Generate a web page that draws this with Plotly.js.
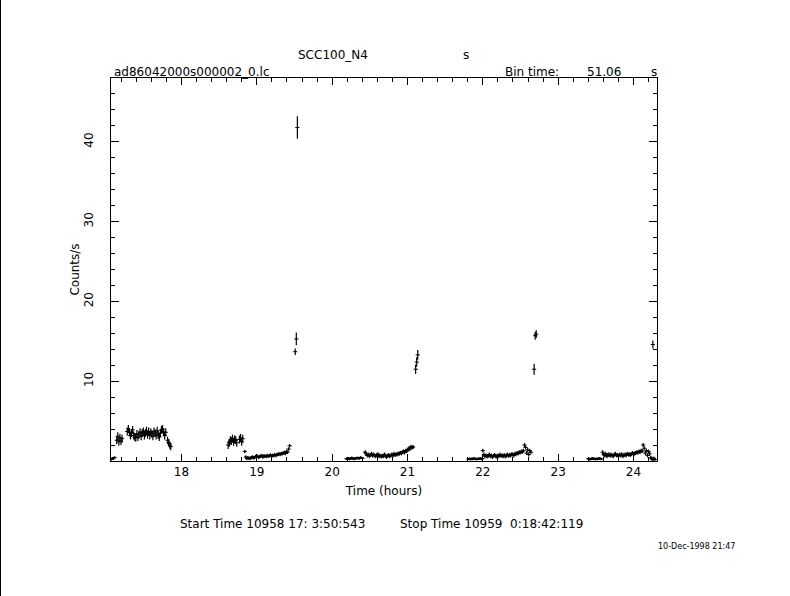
<!DOCTYPE html>
<html>
<head>
<meta charset="utf-8">
<script src="https://cdn.plot.ly/plotly-3.0.1.min.js"></script>
<style>
  html, body { margin: 0; padding: 0; background: #fff; }
  #wrap { position: relative; width: 790px; height: 596px; }
  #plot { position: absolute; left: 0; top: 0; width: 790px; height: 596px; }
  #edge { position: absolute; left: 0; top: 0; width: 1px; height: 596px; background: #000; }
</style>
</head>
<body>
<div id="wrap"><div id="plot"></div><div id="edge"></div></div>
<script>
// ---- data ----
const binTimeSec = 51.06;
const startTimeHours = 17.064;   // 17:03:50.543
const stopTimeHours = 24.312;    // 00:18:42.119 next day

// start hour of each contiguous run of bins
const segStart = [17.068, 17.140, 17.280, 17.815, 18.620, 18.770, 18.840,
                  20.190, 20.437, 21.810, 22.000, 23.400, 23.590];
// typical error (counts/s) in each run
const segErr = [0.15, 0.5, 0.5, 0.45, 0.5, 0.5, 0.22, 0.15, 0.25, 0.15, 0.25, 0.15, 0.25];
// rates (counts/s), one per 51.06 s bin
const segRates = [
  [0.2, 0.35, 0.3, 0.45],
  [2.6, 3.1, 2.4, 2.9, 2.5, 2.8],
  [3.7, 4.0, 3.6, 3.2, 3.5, 3.9, 3.2, 3.0, 2.9, 3.4, 3.0, 3.3, 3.6, 3.1, 3.5, 3.7, 3.2, 3.5, 3.8,
   3.3, 3.7, 3.2, 3.6, 3.4, 3.1, 3.7, 3.5, 3.2, 3.8, 3.3, 3.0, 3.5, 3.9, 4.0, 3.6, 3.2, 3.6],
  [2.6, 2.3, 2.0, 1.8],
  [2.0, 2.3, 2.6, 2.5, 2.8, 2.4, 2.7, 2.6, 2.3],
  [2.7, 2.9, 2.4, 2.8],
  [1.2, 0.5, 0.3, 0.4, 0.3, 0.35, 0.4, 0.5, 0.4, 0.45, 0.55, 0.5, 0.6, 0.45, 0.55, 0.6, 0.7, 0.5,
   0.65, 0.6, 0.55, 0.7, 0.6, 0.65, 0.75, 0.6, 0.7, 0.65, 0.8, 0.7, 0.75, 0.85, 0.9, 0.8, 0.95,
   0.9, 1.0, 1.05, 0.95, 1.2, 1.1, 1.5, 1.9],
  [0.3, 0.2, 0.35, 0.25, 0.3, 0.4, 0.3, 0.25, 0.35, 0.3, 0.4, 0.35, 0.3, 0.45, 0.4, 0.35],
  [1.1, 0.9, 0.7, 0.8, 0.6, 0.75, 0.9, 0.65, 0.8, 0.7, 0.6, 0.75, 0.85, 0.6, 0.7, 0.55, 0.65, 0.6,
   0.8, 0.7, 0.5, 0.65, 0.75, 0.6, 0.7, 0.8, 0.65, 0.9, 0.75, 0.85, 0.8, 0.95, 0.9, 1.05, 0.95,
   1.1, 1.2, 1.05, 1.3, 1.25, 1.4, 1.6, 1.5, 1.8, 1.7, 1.75],
  [0.25, 0.3, 0.2, 0.3, 0.25, 0.35, 0.3, 0.2, 0.3, 0.25, 0.3, 0.35, 0.25, 0.3],
  [1.3, 0.8, 0.6, 0.7, 0.55, 0.65, 0.8, 0.6, 0.7, 0.5, 0.65, 0.75, 0.6, 0.55, 0.7, 0.6, 0.8, 0.65,
   0.7, 0.6, 0.75, 0.55, 0.7, 0.8, 0.65, 0.75, 0.7, 0.85, 0.8, 0.7, 0.9, 0.85, 1.0, 0.95, 1.1,
   1.05, 1.2, 1.15, 1.3, 2.0, 1.7, 1.0, 1.4, 0.8, 1.3, 1.1],
  [0.3, 0.25, 0.2, 0.3, 0.35, 0.25, 0.3, 0.2, 0.3, 0.25, 0.35, 0.3, 0.25],
  [1.1, 0.8, 0.7, 0.9, 0.6, 0.75, 0.85, 0.65, 0.8, 0.7, 0.6, 0.8, 0.9, 0.7, 0.75, 0.65, 0.8, 0.7,
   0.85, 0.6, 0.75, 0.8, 0.7, 0.9, 0.8, 0.85, 0.75, 0.9, 1.0, 0.85, 0.95, 1.0, 1.1, 1.05, 1.2,
   1.1, 1.3, 1.25, 2.0, 1.6, 1.0, 1.3, 0.7, 1.2, 0.9, 0.4, 0.3, 0.2, 0.3, 0.2]
];
// isolated high bins
const flareTimes = [19.510, 19.524, 19.538, 21.108, 21.122, 21.136, 22.681, 22.695, 22.709, 24.257];
const flareRates = [13.7, 15.3, 41.8, 11.5, 12.4, 13.3, 11.5, 15.7, 15.9, 14.6];
const flareErr   = [0.4, 0.8, 1.4, 0.6, 0.6, 0.6, 0.7, 0.5, 0.5, 0.5];

const xTickVals = [18, 19, 20, 21, 22, 23, 24];
const yTickVals = [10, 20, 30, 40];

// ---- build points ----
const binHours = binTimeSec / 3600;
const tx = [], ty = [], te = [];
segRates.forEach((rates, s) => {
  rates.forEach((r, i) => {
    tx.push(segStart[s] + i * binHours);
    ty.push(r);
    te.push(segErr[s]);
  });
});
flareTimes.forEach((t, i) => { tx.push(t); ty.push(flareRates[i]); te.push(flareErr[i]); });

const FONT = 'DejaVu Sans, Liberation Sans, sans-serif';
const trace = {
  x: tx, y: ty, type: 'scatter', mode: 'markers',
  marker: { symbol: 'line-ew', size: 3, color: '#000', line: { color: '#000', width: 1 } },
  error_y: { type: 'data', array: te, visible: true, color: '#000', thickness: 1.2, width: 0 },
  error_x: { type: 'constant', value: binHours / 2, visible: true, color: '#000', thickness: 1, width: 0 },
  hoverinfo: 'x+y'
};

// plot area in pixels
const L = 111, R = 657, T = 78, B = 461;
const px = (x) => (x - L) / (R - L);
const py = (y) => (B - y) / (B - T);
function ann(text, x, y, xanchor, size) {
  return { text: text, xref: 'paper', yref: 'paper', x: px(x), y: py(y),
           xanchor: xanchor, yanchor: 'middle', showarrow: false,
           font: { family: FONT, size: size || 12, color: '#000' } };
}

const layout = {
  width: 790, height: 596,
  margin: { l: L, r: 790 - R, t: T, b: 596 - B, pad: 0 },
  paper_bgcolor: '#fff', plot_bgcolor: '#fff',
  showlegend: false,
  font: { family: FONT, size: 12, color: '#000' },
  xaxis: {
    range: [startTimeHours, stopTimeHours],
    tickvals: xTickVals, ticktext: xTickVals.map(String),
    ticks: 'inside', ticklen: 7, tickwidth: 1, tickcolor: '#000',
    minor: { dtick: 0.2, tick0: 0, ticks: 'inside', ticklen: 4, tickwidth: 1, tickcolor: '#000', showgrid: false },
    showline: true, linecolor: '#000', linewidth: 1, mirror: 'ticks',
    showgrid: false, zeroline: false,
    tickfont: { family: FONT, size: 12, color: '#000' },
    title: { text: 'Time (hours)', font: { family: FONT, size: 12, color: '#000' }, standoff: 8 }
  },
  yaxis: {
    range: [0, 48],
    tickvals: yTickVals, ticktext: yTickVals.map(String),
    tickangle: -90,
    ticks: 'inside', ticklen: 8, tickwidth: 1, tickcolor: '#000',
    minor: { dtick: 2, tick0: 0, ticks: 'inside', ticklen: 4, tickwidth: 1, tickcolor: '#000', showgrid: false },
    showline: true, linecolor: '#000', linewidth: 1, mirror: 'ticks',
    showgrid: false, zeroline: false,
    ticklabelstandoff: 12,
    tickfont: { family: FONT, size: 12, color: '#000' },
    title: { text: 'Counts/s', font: { family: FONT, size: 12, color: '#000' }, standoff: 0 }
  },
  annotations: [
    ann('SCC100_N4', 333, 55, 'center'),
    ann('s', 466, 55, 'center'),
    ann('ad86042000s000002_0.lc', 112, 72, 'left'),
    ann('Bin time:', 503, 72, 'left'),
    ann('51.06', 585, 72, 'left'),
    ann('s', 654, 72, 'center'),
    ann('Start Time 10958 17: 3:50:543', 178, 524, 'left'),
    ann('Stop Time 10959  0:18:42:119', 398, 524, 'left'),
    ann('10-Dec-1998 21:47', 737, 546, 'right', 8)
  ]
};

Plotly.newPlot('plot', [trace], layout, { displayModeBar: false, staticPlot: true });
</script>
</body>
</html>
